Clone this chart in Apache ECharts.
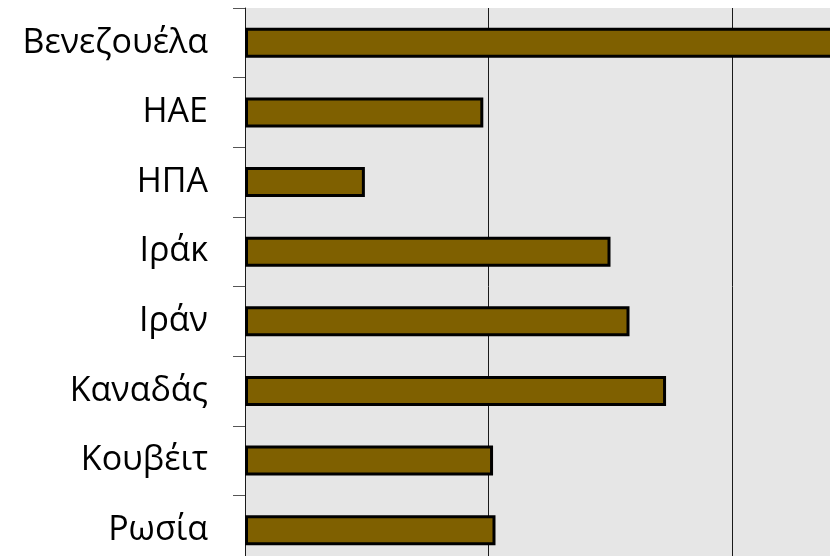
<!DOCTYPE html>
<html>
<head>
<meta charset="utf-8">
<style>
  html, body { margin: 0; padding: 0; background: #ffffff; overflow: hidden; }
  /* the plot continues past the right and bottom edges of the window */
  #chart { width: 1000px; height: 600px; }
</style>
<script src="https://cdn.jsdelivr.net/npm/echarts@6/dist/echarts.min.js"></script>
</head>
<body>
<div id="chart"></div>
<script>
// Proven oil reserves by country (billion barrels)
const countries = ['Βενεζουέλα', 'ΗΑΕ', 'ΗΠΑ', 'Ιράκ', 'Ιράν', 'Καναδάς', 'Κουβέιτ', 'Ρωσία'];
const reserves = [298.3, 97.8, 49.2, 150.0, 157.8, 172.8, 101.8, 102.8];
const axisMin = 0;
const axisMax = 300;
const axisStep = 100;

const chart = echarts.init(document.getElementById('chart'), null, { renderer: 'canvas' });

chart.setOption({
  animation: false,
  backgroundColor: '#ffffff',
  grid: {
    show: true,
    left: 245,
    top: 8,
    width: 731,
    height: 557,
    backgroundColor: '#e6e6e6',
    borderWidth: 0
  },
  xAxis: {
    type: 'value',
    min: axisMin,
    max: axisMax,
    interval: axisStep,
    axisLine: { show: false },
    axisTick: { show: false },
    axisLabel: { show: false },
    splitLine: { show: true, lineStyle: { color: '#1a1a1a', width: 1 } }
  },
  yAxis: {
    type: 'category',
    data: countries,
    inverse: true,
    axisLine: { show: true, lineStyle: { color: '#1a1a1a', width: 1 } },
    axisTick: { show: true, length: 12, inside: false, lineStyle: { color: '#555555', width: 1 } },
    axisLabel: {
      margin: 37,
      fontFamily: '"Open Sans", "Noto Sans", sans-serif',
      fontSize: 34,
      color: '#000000'
    },
    splitLine: { show: false }
  },
  series: [{
    type: 'bar',
    data: reserves,
    barWidth: 30,
    itemStyle: {
      color: '#7f6000',
      borderColor: '#000000',
      borderWidth: 3
    }
  }]
});
</script>
</body>
</html>
